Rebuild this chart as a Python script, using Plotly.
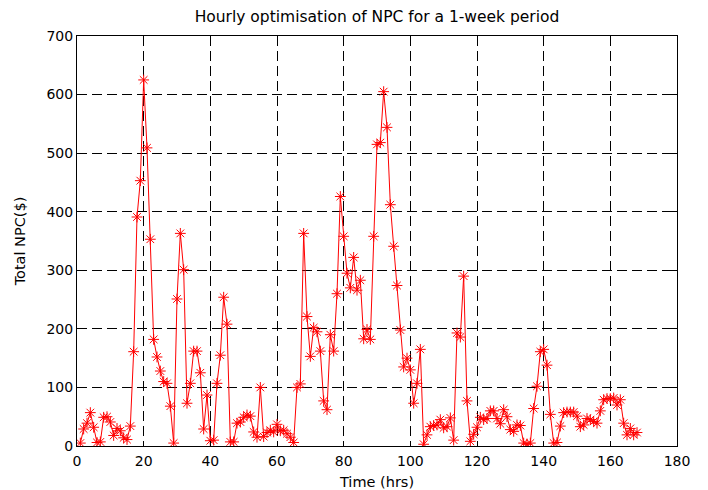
import plotly.graph_objects as go

hours = list(range(1, 169))
npc = [
    5, 29, 39, 57, 32, 6, 7, 49, 50, 41,
    18, 30, 26, 14, 11, 34, 161, 391, 453, 625,
    509, 353, 182, 152, 128, 110, 107, 68, 5, 251,
    363, 301, 73, 107, 162, 162, 125, 29, 87, 9,
    10, 107, 155, 254, 208, 7, 7, 39, 41, 49,
    53, 51, 24, 15, 100, 16, 23, 27, 24, 37,
    26, 27, 21, 15, 6, 100, 106, 363, 221, 153,
    202, 195, 162, 77, 62, 190, 162, 260, 426, 358,
    295, 270, 322, 266, 283, 183, 199, 182, 358, 515,
    518, 605, 544, 412, 341, 274, 198, 135, 150, 130,
    73, 107, 165, 3, 19, 33, 35, 36, 45, 31,
    33, 48, 10, 193, 186, 290, 77, 8, 20, 32,
    49, 45, 47, 60, 60, 47, 38, 62, 50, 28,
    25, 36, 35, 5, 3, 5, 64, 102, 161, 165,
    138, 54, 5, 6, 34, 57, 58, 58, 58, 51,
    33, 36, 47, 45, 42, 39, 60, 79, 81, 81,
    82, 70, 79, 39, 19, 30, 19, 23,
]
assert len(npc) == len(hours)

x_ticks = [0, 20, 40, 60, 80, 100, 120, 140, 160, 180]
y_ticks = [0, 100, 200, 300, 400, 500, 600, 700]

font = "DejaVu Sans, Verdana, sans-serif"

fig = go.Figure()
fig.add_trace(go.Scatter(
    x=hours, y=npc, mode="lines+markers",
    line=dict(color="red", width=1),
    marker=dict(symbol="asterisk-open", size=9, color="red",
                line=dict(color="red", width=1)),
    showlegend=False,
))

axis_common = dict(
    showline=True, linecolor="black", linewidth=1, mirror="ticks",
    ticks="inside", ticklen=5, tickcolor="black",
    showgrid=True, gridcolor="black", gridwidth=1, griddash="10px,5px",
    zeroline=False, automargin=False,
    tickfont=dict(family=font, size=14, color="black"),
)

fig.update_xaxes(range=[0, 180], tickvals=x_ticks, ticklabelstandoff=2,
                 title=dict(text="Time (hrs)", font=dict(family=font, size=14.5, color="black"), standoff=13),
                 **axis_common)
fig.update_yaxes(range=[0, 700], tickvals=y_ticks,
                 title=dict(text="Total NPC($)", font=dict(family=font, size=14.5, color="black"), standoff=17),
                 **axis_common)

fig.update_layout(
    width=700, height=482,
    margin=dict(l=69, r=31, t=28, b=44),
    paper_bgcolor="white", plot_bgcolor="white",
    title=dict(text="Hourly optimisation of NPC for a 1-week period",
               font=dict(family=font, size=15.5, color="black"),
               x=0.5, xref="paper", xanchor="center",
               y=1 - 9 / 482, yref="container", yanchor="middle"),
)

fig.write_html("out.html")
